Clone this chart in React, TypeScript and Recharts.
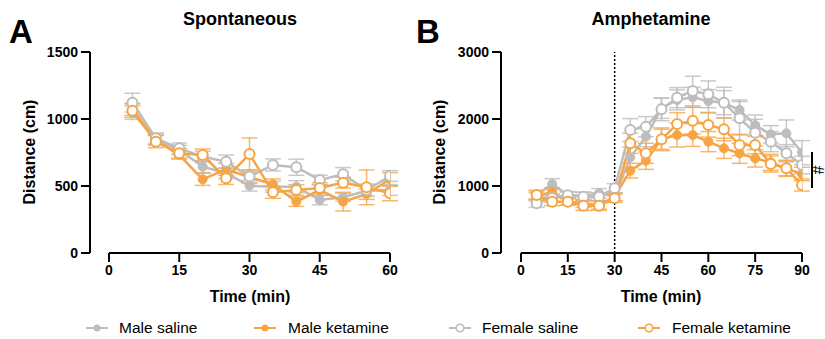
import React from "react";
import {
  LineChart,
  Line,
  XAxis,
  YAxis,
  ErrorBar,
  ReferenceLine,
} from "recharts";

const FONT = '"Liberation Sans", Arial, Helvetica, sans-serif';
const GRAY = "#BDBDBD";
const ORANGE = "#F7A544";

// Panel A: spontaneous (5..60 min)
const timesA = [5, 10, 15, 20, 25, 30, 35, 40, 45, 50, 55, 60];
const maleSalineA = [1047, 848, 769, 644, 595, 502, 495, 495, 395, 416, 465, 470];
const maleSalineErrA = [50, 40, 35, 45, 40, 40, 40, 45, 35, 30, 40, 40];
const maleKetA = [1072, 843, 731, 550, 625, 565, 513, 383, 470, 383, 440, 550];
const maleKetErrA = [45, 35, 30, 45, 45, 40, 40, 35, 40, 70, 40, 50];
const femaleSalineA = [1122, 856, 781, 719, 681, 570, 657, 640, 545, 587, 470, 575];
const femaleSalineErrA = [70, 40, 40, 40, 50, 50, 45, 60, 35, 50, 45, 40];
const femaleKetA = [1062, 831, 744, 731, 557, 739, 453, 470, 485, 525, 490, 445];
const femaleKetErrA = [50, 45, 35, 45, 45, 120, 45, 40, 40, 40, 130, 55];
const yTicksA = [0, 500, 1000, 1500];
const xTicksA = [0, 15, 30, 45, 60];

// Panel B: amphetamine (5..90 min)
const timesB = [5, 10, 15, 20, 25, 30, 35, 40, 45, 50, 55, 60, 65, 70, 75, 80, 85, 90];
const maleSalineB = [866, 1030, 866, 851, 891, 841, 1428, 1736, 2159, 2284, 2323, 2269, 2244, 2134, 1910, 1771, 1786, 1498];
const maleSalineErrB = [60, 80, 50, 60, 70, 60, 150, 150, 150, 150, 150, 170, 230, 150, 150, 130, 200, 180];
const maleKetB = [841, 915, 766, 741, 716, 841, 1229, 1378, 1697, 1761, 1761, 1662, 1562, 1488, 1413, 1353, 1264, 1179];
const maleKetErrB = [60, 60, 50, 60, 60, 60, 110, 130, 150, 180, 170, 150, 150, 150, 130, 120, 110, 100];
const femaleSalineB = [741, 820, 861, 841, 841, 965, 1836, 1886, 2144, 2318, 2418, 2368, 2244, 2010, 1796, 1662, 1488, 1313];
const femaleSalineErrB = [60, 60, 50, 60, 60, 70, 170, 150, 170, 150, 220, 200, 180, 250, 200, 150, 130, 130];
const femaleKetB = [866, 766, 766, 706, 706, 816, 1637, 1488, 1697, 1925, 1975, 1910, 1846, 1612, 1612, 1328, 1264, 1015];
const femaleKetErrB = [70, 60, 50, 70, 70, 60, 150, 150, 170, 170, 200, 180, 170, 160, 130, 120, 120, 90];
const yTicksB = [0, 1000, 2000, 3000];
const xTicksB = [0, 15, 30, 45, 60, 75, 90];

const series = [
  { key: "ms", name: "Male saline", color: GRAY, open: false },
  { key: "mk", name: "Male ketamine", color: ORANGE, open: false },
  { key: "fs", name: "Female saline", color: GRAY, open: true },
  { key: "fk", name: "Female ketamine", color: ORANGE, open: true },
];

function buildRows(times: number[], cols: Record<string, number[]>) {
  return times.map((t, i) => {
    const row: Record<string, number> = { t };
    Object.keys(cols).forEach((k) => (row[k] = cols[k][i]));
    return row;
  });
}

const dataA = buildRows(timesA, {
  ms: maleSalineA, msErr: maleSalineErrA,
  mk: maleKetA, mkErr: maleKetErrA,
  fs: femaleSalineA, fsErr: femaleSalineErrA,
  fk: femaleKetA, fkErr: femaleKetErrA,
});

const dataB = buildRows(timesB, {
  ms: maleSalineB, msErr: maleSalineErrB,
  mk: maleKetB, mkErr: maleKetErrB,
  fs: femaleSalineB, fsErr: femaleSalineErrB,
  fk: femaleKetB, fkErr: femaleKetErrB,
});

const tickStyle = { fill: "#000", fontSize: 14, fontWeight: 700, fontFamily: FONT };

type PanelProps = {
  data: Record<string, number>[];
  width: number;
  xDomain: [number, number];
  xMax: number;
  xTicks: number[];
  yMax: number;
  yTicks: number[];
  rightMargin: number;
  marker?: number;
};

function Panel({ data, width, xDomain, xMax, xTicks, yMax, yTicks, rightMargin, marker }: PanelProps) {
  return (
    <LineChart
      width={width}
      height={339}
      data={data}
      margin={{ top: 52, right: rightMargin, left: 0, bottom: 56 }}
    >
      <XAxis
        dataKey="t"
        type="number"
        domain={xDomain}
        ticks={xTicks}
        allowDataOverflow
        axisLine={false}
        tickLine={{ stroke: "#000", strokeWidth: 2 }}
        tickSize={9}
        tickMargin={3}
        tick={tickStyle}
        height={30}
      />
      <YAxis
        type="number"
        domain={[0, yMax]}
        ticks={yTicks}
        width={90}
        axisLine={{ stroke: "#000", strokeWidth: 2 }}
        tickLine={{ stroke: "#000", strokeWidth: 2 }}
        tickSize={9}
        tickMargin={3}
        tick={tickStyle}
      />
      <ReferenceLine
        segment={[{ x: 0, y: 0 }, { x: xMax, y: 0 }]}
        stroke="#000"
        strokeWidth={2}
        ifOverflow="visible"
      />
      {marker !== undefined && (
        <ReferenceLine x={marker} stroke="#000" strokeWidth={1.5} strokeDasharray="2 2" />
      )}
      {series.map((s) => (
        <Line
          key={s.key}
          dataKey={s.key}
          stroke={s.color}
          strokeWidth={2.5}
          isAnimationActive={false}
          dot={
            s.open
              ? { r: 5, fill: "#fff", stroke: s.color, strokeWidth: 2 }
              : { r: 4.5, fill: s.color, stroke: s.color, strokeWidth: 1 }
          }
          activeDot={false}
        >
          <ErrorBar
            dataKey={s.key + "Err"}
            width={8}
            stroke={s.color}
            strokeWidth={1.5}
            strokeOpacity={0.8}
            isAnimationActive={false}
          />
        </Line>
      ))}
    </LineChart>
  );
}

function LegendMark({ color, open }: { color: string; open: boolean }) {
  return (
    <svg width={24} height={12} style={{ display: "block" }}>
      <line x1={1} y1={6} x2={23} y2={6} stroke={color} strokeWidth={2} />
      {open ? (
        <circle cx={12} cy={6} r={3.8} fill="#fff" stroke={color} strokeWidth={1.6} />
      ) : (
        <circle cx={12} cy={6} r={3.5} fill={color} />
      )}
    </svg>
  );
}

const abs = (left: number, top: number, extra: React.CSSProperties = {}): React.CSSProperties => ({
  position: "absolute",
  left,
  top,
  fontFamily: FONT,
  color: "#000",
  whiteSpace: "nowrap",
  lineHeight: 1,
  ...extra,
});

const legendPos = [
  { mark: 85, text: 119 },
  { mark: 253, text: 288 },
  { mark: 448, text: 482 },
  { mark: 637, text: 672 },
];

export default function App() {
  return (
    <div
      style={{
        position: "absolute",
        left: 0,
        top: 0,
        width: 825,
        height: 339,
        overflow: "hidden",
        background: "#fff",
      }}
    >
      <div style={abs(0, 0)}>
        <Panel
          data={dataA}
          width={410}
          xDomain={[-4.057, 60]}
          xMax={60}
          xTicks={xTicksA}
          yMax={1500}
          yTicks={yTicksA}
          rightMargin={20}
        />
      </div>
      <div style={abs(411, 0)}>
        <Panel
          data={dataB}
          width={414}
          xDomain={[-6.4, 90]}
          xMax={90}
          xTicks={xTicksB}
          yMax={3000}
          yTicks={yTicksB}
          rightMargin={23}
          marker={30}
        />
      </div>

      <div style={abs(9, 15, { fontSize: 33, fontWeight: 700 })}>A</div>
      <div style={abs(416, 15, { fontSize: 33, fontWeight: 700 })}>B</div>
      <div style={abs(140, 10, { width: 200, textAlign: "center", fontSize: 18, fontWeight: 700 })}>
        Spontaneous
      </div>
      <div style={abs(551, 10, { width: 200, textAlign: "center", fontSize: 18, fontWeight: 700 })}>
        Amphetamine
      </div>

      {[30, 440].map((x) => (
        <div
          key={x}
          style={abs(x - 60, 144, {
            width: 120,
            textAlign: "center",
            fontSize: 16,
            fontWeight: 700,
            transform: "rotate(-90deg)",
          })}
        >
          Distance (cm)
        </div>
      ))}
      <div style={abs(150, 289, { width: 200, textAlign: "center", fontSize: 16, fontWeight: 700 })}>
        Time (min)
      </div>
      <div style={abs(561, 289, { width: 200, textAlign: "center", fontSize: 16, fontWeight: 700 })}>
        Time (min)
      </div>

      <div style={abs(811, 152, { width: 2, height: 36, background: "#000" })} />
      <div style={abs(813, 162, { fontSize: 16, fontWeight: 400, transform: "rotate(90deg)" })}>#</div>

      {series.map((s, i) => (
        <React.Fragment key={s.key}>
          <div style={abs(legendPos[i].mark, 322)}>
            <LegendMark color={s.color} open={s.open} />
          </div>
          <div style={abs(legendPos[i].text, 320, { fontSize: 15.5 })}>{s.name}</div>
        </React.Fragment>
      ))}
    </div>
  );
}
